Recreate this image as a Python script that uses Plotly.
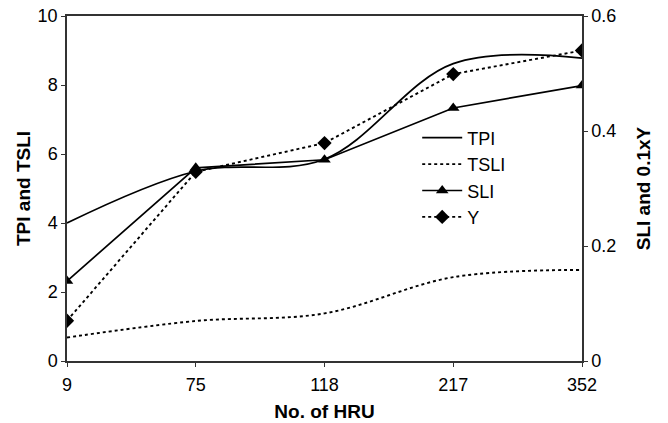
import plotly.graph_objects as go

hru = ["9", "75", "118", "217", "352"]
tpi = [4.0, 5.5, 5.85, 8.62, 8.78]
tsli = [0.68, 1.16, 1.38, 2.43, 2.64]
sli = [0.139, 0.336, 0.350, 0.440, 0.479]
y01 = [0.070, 0.329, 0.379, 0.499, 0.540]

FONT = "Liberation Sans, Arial, sans-serif"

fig = go.Figure()
fig.add_trace(go.Scatter(x=hru, y=tpi, name="TPI", mode="lines",
                         line=dict(color="black", width=1.7, shape="spline", smoothing=1.0)))
fig.add_trace(go.Scatter(x=hru, y=tsli, name="TSLI", mode="lines",
                         line=dict(color="black", width=1.9, dash="dot", shape="spline", smoothing=1.0)))
fig.add_trace(go.Scatter(x=hru, y=sli, name="SLI", mode="lines+markers", yaxis="y2",
                         line=dict(color="black", width=1.7),
                         marker=dict(symbol="triangle-up", size=11, color="black")))
fig.add_trace(go.Scatter(x=hru, y=y01, name="Y", mode="lines+markers", yaxis="y2",
                         line=dict(color="black", width=1.9, dash="dot"),
                         marker=dict(symbol="diamond", size=11, color="black")))

fig.update_layout(
    width=668, height=423,
    margin=dict(l=67, r=86, t=16, b=62),
    paper_bgcolor="white", plot_bgcolor="white",
    font=dict(family=FONT, size=18, color="black"),
    showlegend=True,
    legend=dict(x=0.68, y=0.70, xanchor="left", yanchor="top",
                bgcolor="rgba(0,0,0,0)", font=dict(size=18),
                tracegroupgap=0, itemwidth=40),
    xaxis=dict(type="category", range=[0, 4], showgrid=False, zeroline=False, automargin=False,
               showline=True, linecolor="#333", linewidth=1.5, mirror=True,
               ticks="outside", ticklen=4, tickcolor="#333", ticklabelstandoff=3,
               title=dict(text="<b>No. of HRU</b>", font=dict(size=19), standoff=10)),
    yaxis=dict(range=[0, 10], dtick=2, showgrid=False, zeroline=False, automargin=False,
               showline=True, linecolor="#333", linewidth=1.5,
               ticks="outside", ticklen=4, tickcolor="#333",
               title=dict(text="<b>TPI and TSLI</b>", font=dict(size=19), standoff=2)),
    yaxis2=dict(range=[0, 0.6], dtick=0.2, overlaying="y", side="right", automargin=False,
                showgrid=False, zeroline=False,
                showline=True, linecolor="#333", linewidth=1.5,
                ticks="outside", ticklen=4, tickcolor="#333",
                title=dict(text="<b>SLI and 0.1xY</b>", font=dict(size=19), standoff=21)),
)

fig.write_html("out.html")
